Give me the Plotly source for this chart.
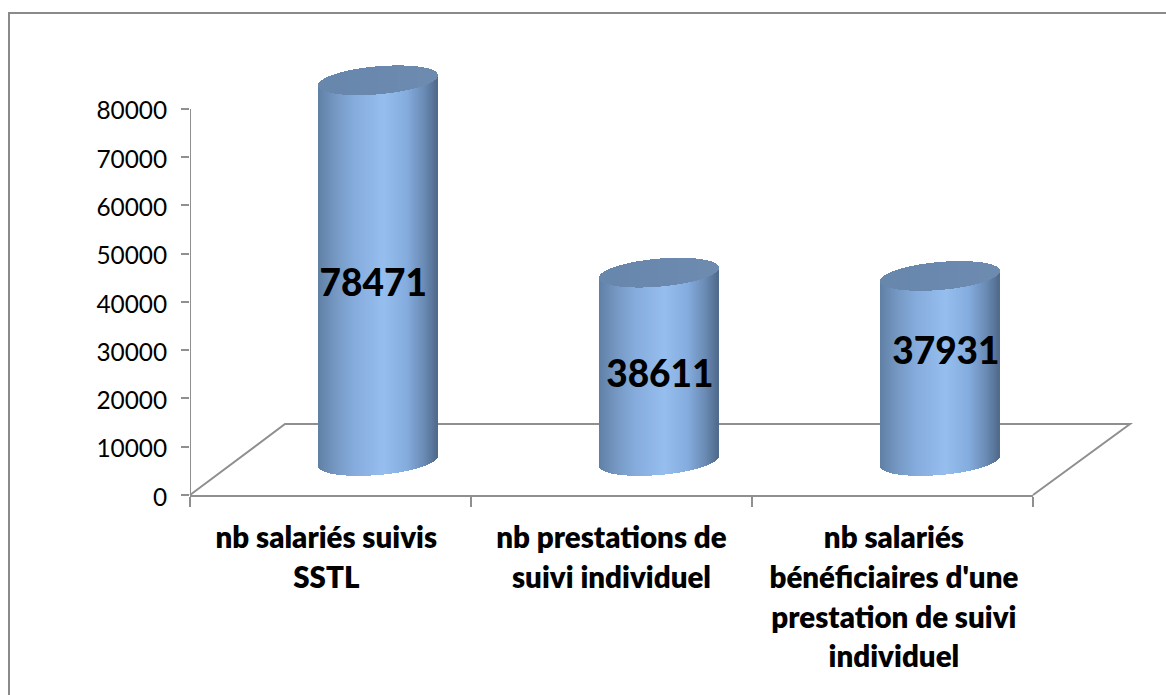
import numpy as np
import plotly.graph_objects as go

categories = ["nb salariés suivis<br>SSTL", "nb prestations de<br>suivi individuel",
              "nb salariés<br>bénéficiaires d'une<br>prestation de suivi<br>individuel"]
values = [78471, 38611, 37931]
y_ticks = [0, 10000, 20000, 30000, 40000, 50000, 60000, 70000, 80000]
label_x = [0.652, 1.672, 2.69]
label_y = [43100, 24200, 29000]

W, H = 1166, 695
L, R, T0, B = 190, 1033, 109, 495
px_x = 3.0 / (R - L)
px_y = 80000.0 / (B - T0)
y_max = 92000          # headroom so the cylinder caps stay inside the plot
T = B - y_max / px_y

center_shift = 0.671   # cylinders sit behind the front edge, shifted along the category axis
base_val = 33 * px_y
top_extra = 3 * px_y
half_w, semi_b, shear = 59.5, 14.0, -5.0 / 59.5

stops = [(0.0, (96, 128, 166)), (0.15, (118, 153, 196)), (0.3, (133, 172, 220)), (0.55, (150, 190, 238)),
         (0.75, (132, 172, 222)), (0.9, (105, 137, 178)), (1.0, (80, 106, 140))]
cap_stops = [(0.0, (104, 135, 173)), (1.0, (110, 139, 176))]


def shade(f, st):
    xs = [s[0] for s in st]
    c = [np.interp(f, xs, [s[1][k] for s in st]) for k in range(3)]
    return "rgb(%d,%d,%d)" % tuple(c)


bx, bbase, bh, bc, cx, cbase, ch, cc = [], [], [], [], [], [], [], []
offs = np.arange(-half_w + 0.5, half_w, 1.0)
for i, v in enumerate(values):
    for dx in offs:
        f = (dx + half_w) / (2 * half_w)
        arc = semi_b * np.sqrt(max(0.0, 1 - (dx / half_w) ** 2))
        s = shear * dx
        x = i + center_shift + dx * px_x
        low_bottom = base_val + px_y - (s + arc) * px_y
        top_mid = base_val + top_extra + v - s * px_y
        cap_low = top_mid - arc * px_y
        cap_high = top_mid + arc * px_y
        bx.append(x); bbase.append(low_bottom); bh.append(cap_low - low_bottom); bc.append(shade(f, stops))
        cx.append(x); cbase.append(cap_low); ch.append(cap_high - cap_low); cc.append(shade(f, cap_stops))

GREY = "#8f8f8f"
strip_w = 1.4 * px_x
fig = go.Figure()
fig.add_scatter(x=[0, 0], y=[0, 80000], mode="lines", line=dict(color=GREY, width=2),
                cliponaxis=False, hoverinfo="skip")
fig.add_bar(x=bx, y=bh, base=bbase, width=strip_w, marker=dict(color=bc, line_width=0),
            cliponaxis=False, hoverinfo="skip")
fig.add_bar(x=cx, y=ch, base=cbase, width=strip_w, marker=dict(color=cc, line_width=0),
            cliponaxis=False, hoverinfo="skip")
fig.add_scatter(x=label_x, y=label_y, mode="text", text=[str(v) for v in values],
                textfont=dict(family="Lato", size=37, color="black", weight=900),
                textposition="middle center", cliponaxis=False, hoverinfo="skip")


def pxx(p):
    return (p - L) / (R - L)


def pxy(p):
    return (B - p) / (B - T)


floor = "M %f,%f L %f,%f L %f,%f L %f,%f" % (pxx(190), pxy(495), pxx(285), pxy(424),
                                             pxx(1130), pxy(424), pxx(1033), pxy(495))
border = "M %f,%f L %f,%f L %f,%f" % (pxx(9), pxy(695), pxx(9), pxy(13), pxx(1166), pxy(13))
fig.update_layout(
    width=W, height=H, margin=dict(l=L, r=W - R, t=T, b=H - B, autoexpand=False),
    paper_bgcolor="white", plot_bgcolor="rgba(0,0,0,0)", barmode="overlay", showlegend=False,
    bargap=0,
    font=dict(family="Lato", color="black"),
    shapes=[
        dict(type="path", path=floor, xref="paper", yref="paper", layer="below",
             line=dict(color=GREY, width=2)),
        dict(type="path", path=border, xref="paper", yref="paper", layer="below",
             line=dict(color="#8a8a8a", width=2)),
    ],
    xaxis=dict(range=[0, 3], tickmode="array", tickvals=[0.485, 1.5, 2.505],
               ticktext=['<br>'.join('<span style="font-size:29.5px">%s</span>' % t for t in c.split('<br>'))
                         for c in categories],
               ticks="", showgrid=False, zeroline=False, showline=True, linecolor=GREY, linewidth=2,
               tickangle=0, tickfont=dict(family="Lato", size=30.4, color="black", weight=800),
               ticklabelstandoff=15,
               minor=dict(tickmode="array", tickvals=[0, 1, 2, 3], ticks="outside", ticklen=10,
                          tickwidth=2, tickcolor=GREY, showgrid=False)),
    yaxis=dict(range=[0, y_max], tickmode="array", tickvals=y_ticks, ticktext=[str(t) for t in y_ticks],
               ticks="outside", ticklen=8, tickwidth=2, tickcolor=GREY, showgrid=False, zeroline=False,
               showline=False,
               tickfont=dict(family="Lato", size=24.4, color="black"), ticklabelstandoff=9,
               ticklabelshift=2),
)
fig.write_html("out.html", post_script="document.body.style.margin='0';",
               config=dict(displayModeBar=False))
